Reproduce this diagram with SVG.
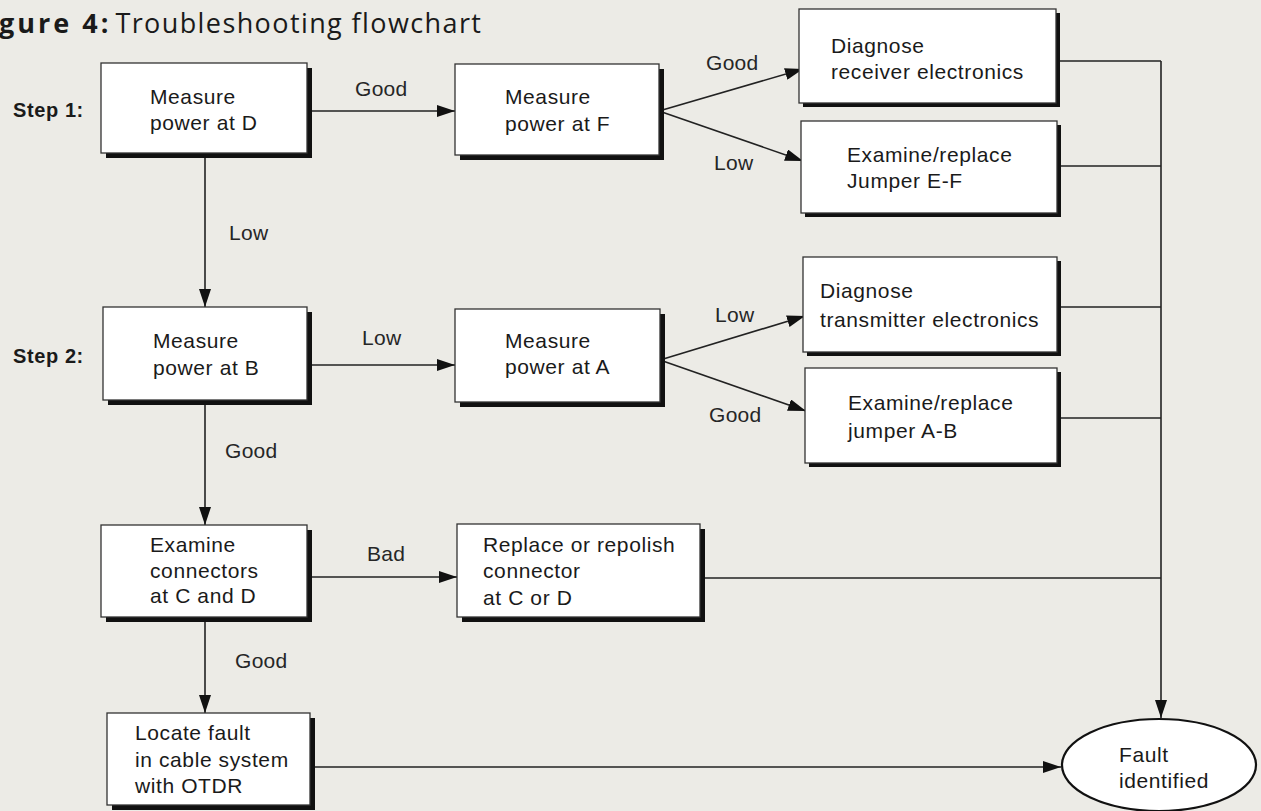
<svg xmlns="http://www.w3.org/2000/svg" width="1261" height="811" viewBox="0 0 1261 811">
  <style>
    .bg { fill: #ecebe6; }
    .shadow { fill: #111; }
    .box { fill: #fff; stroke: #333; stroke-width: 1.3; }
    .txt { font-family: "Liberation Sans", Arial, sans-serif; font-size: 21px; letter-spacing: 0.6px; fill: #1a1a1a; }
    .lbl { font-family: "Liberation Sans", Arial, sans-serif; font-size: 21px; letter-spacing: 0.3px; fill: #262626; }
    .step { font-family: "Liberation Sans", Arial, sans-serif; font-size: 20px; font-weight: bold; letter-spacing: 0.6px; fill: #1a1a1a; }
    .title { font-family: "Open Sans", "Noto Sans", sans-serif; font-size: 27px; fill: #1a1a1a; }
    .conn { fill: none; stroke: #222; stroke-width: 1.6; }
  </style>
  <defs>
    <marker id="arrow" viewBox="0 0 18 12" refX="18" refY="6" markerWidth="18" markerHeight="12" markerUnits="userSpaceOnUse" orient="auto">
      <path d="M0,0 L18,6 L0,12 Z" fill="#111"/>
    </marker>
  </defs>

  <rect class="bg" x="0" y="0" width="1261" height="811"/>

  <!-- heading -->
  <g id="title">
    <text class="title" x="-1" y="33"><tspan font-weight="bold" letter-spacing="3">gure 4:</tspan><tspan dx="4" letter-spacing="1.4">Troubleshooting flowchart</tspan></text>
  </g>

  <!-- step captions -->
  <text class="step" x="13" y="117">Step 1:</text>
  <text class="step" x="13" y="363">Step 2:</text>

  <!-- connectors -->
  <g id="connectors">
    <line class="conn" x1="307" y1="111" x2="455" y2="111" marker-end="url(#arrow)"/>
    <line class="conn" x1="659" y1="111" x2="803" y2="69" marker-end="url(#arrow)"/>
    <line class="conn" x1="659" y1="111" x2="803" y2="161" marker-end="url(#arrow)"/>
    <line class="conn" x1="205" y1="153" x2="205" y2="307" marker-end="url(#arrow)"/>
    <line class="conn" x1="307" y1="365" x2="455" y2="365" marker-end="url(#arrow)"/>
    <line class="conn" x1="660" y1="360" x2="805" y2="316" marker-end="url(#arrow)"/>
    <line class="conn" x1="660" y1="360" x2="806" y2="411" marker-end="url(#arrow)"/>
    <line class="conn" x1="205" y1="400" x2="205" y2="525" marker-end="url(#arrow)"/>
    <line class="conn" x1="307" y1="577" x2="457" y2="577" marker-end="url(#arrow)"/>
    <line class="conn" x1="205" y1="617" x2="205" y2="713" marker-end="url(#arrow)"/>
    <line class="conn" x1="310" y1="767" x2="1061" y2="767" marker-end="url(#arrow)"/>
    <!-- collector on the right feeding the end node -->
    <polyline class="conn" points="1056,61 1161,61"/>
    <polyline class="conn" points="1057,166 1161,166"/>
    <polyline class="conn" points="1057,307 1161,307"/>
    <polyline class="conn" points="1057,418 1161,418"/>
    <polyline class="conn" points="700,578 1161,578"/>
    <line class="conn" x1="1161" y1="61" x2="1161" y2="718" marker-end="url(#arrow)"/>

    <text class="lbl" x="355" y="96">Good</text>
    <text class="lbl" x="706" y="70">Good</text>
    <text class="lbl" x="714" y="170">Low</text>
    <text class="lbl" x="229" y="240">Low</text>
    <text class="lbl" x="362" y="345">Low</text>
    <text class="lbl" x="715" y="322">Low</text>
    <text class="lbl" x="709" y="422">Good</text>
    <text class="lbl" x="225" y="458">Good</text>
    <text class="lbl" x="367" y="561">Bad</text>
    <text class="lbl" x="235" y="668">Good</text>
  </g>

  <!-- nodes -->
  <g id="measure-d">
    <rect class="shadow" x="106" y="68" width="206" height="90"/>
    <rect class="box" x="101" y="63" width="206" height="90"/>
    <text class="txt" x="150" y="104">Measure</text>
    <text class="txt" x="150" y="130">power at D</text>
  </g>

  <g id="measure-f">
    <rect class="shadow" x="460" y="69" width="204" height="91"/>
    <rect class="box" x="455" y="64" width="204" height="91"/>
    <text class="txt" x="505" y="104">Measure</text>
    <text class="txt" x="505" y="131">power at F</text>
  </g>

  <g id="diag-receiver">
    <rect class="shadow" x="803" y="13" width="257" height="94"/>
    <rect class="box" x="799" y="9" width="257" height="94"/>
    <text class="txt" x="831" y="53">Diagnose</text>
    <text class="txt" x="831" y="79">receiver electronics</text>
  </g>

  <g id="jumper-ef">
    <rect class="shadow" x="805" y="125" width="256" height="92"/>
    <rect class="box" x="801" y="121" width="256" height="92"/>
    <text class="txt" x="847" y="162">Examine/replace</text>
    <text class="txt" x="847" y="188">Jumper E-F</text>
  </g>

  <g id="measure-b">
    <rect class="shadow" x="108" y="312" width="204" height="93"/>
    <rect class="box" x="103" y="307" width="204" height="93"/>
    <text class="txt" x="153" y="348">Measure</text>
    <text class="txt" x="153" y="375">power at B</text>
  </g>

  <g id="measure-a">
    <rect class="shadow" x="460" y="314" width="205" height="93"/>
    <rect class="box" x="455" y="309" width="205" height="93"/>
    <text class="txt" x="505" y="348">Measure</text>
    <text class="txt" x="505" y="374">power at A</text>
  </g>

  <g id="diag-transmitter">
    <rect class="shadow" x="807" y="261" width="254" height="95"/>
    <rect class="box" x="803" y="257" width="254" height="95"/>
    <text class="txt" x="820" y="298">Diagnose</text>
    <text class="txt" x="820" y="327">transmitter electronics</text>
  </g>

  <g id="jumper-ab">
    <rect class="shadow" x="809" y="372" width="252" height="95"/>
    <rect class="box" x="805" y="368" width="252" height="95"/>
    <text class="txt" x="848" y="410">Examine/replace</text>
    <text class="txt" x="848" y="438">jumper A-B</text>
  </g>

  <g id="examine-cd">
    <rect class="shadow" x="106" y="530" width="206" height="92"/>
    <rect class="box" x="101" y="525" width="206" height="92"/>
    <text class="txt" x="150" y="552">Examine</text>
    <text class="txt" x="150" y="578">connectors</text>
    <text class="txt" x="150" y="603">at C and D</text>
  </g>

  <g id="replace-connector">
    <rect class="shadow" x="462" y="529" width="243" height="93"/>
    <rect class="box" x="457" y="524" width="243" height="93"/>
    <text class="txt" x="483" y="552">Replace or repolish</text>
    <text class="txt" x="483" y="578">connector</text>
    <text class="txt" x="483" y="605">at C or D</text>
  </g>

  <g id="locate-fault">
    <rect class="shadow" x="112" y="718" width="203" height="92"/>
    <rect class="box" x="107" y="713" width="203" height="92"/>
    <text class="txt" x="135" y="740">Locate fault</text>
    <text class="txt" x="135" y="767">in cable system</text>
    <text class="txt" x="135" y="793">with OTDR</text>
  </g>

  <g id="fault-identified">
    <ellipse cx="1159" cy="765" rx="97" ry="46" fill="#fff" stroke="#111" stroke-width="2.2"/>
    <text class="txt" x="1119" y="762">Fault</text>
    <text class="txt" x="1119" y="788">identified</text>
  </g>
</svg>
